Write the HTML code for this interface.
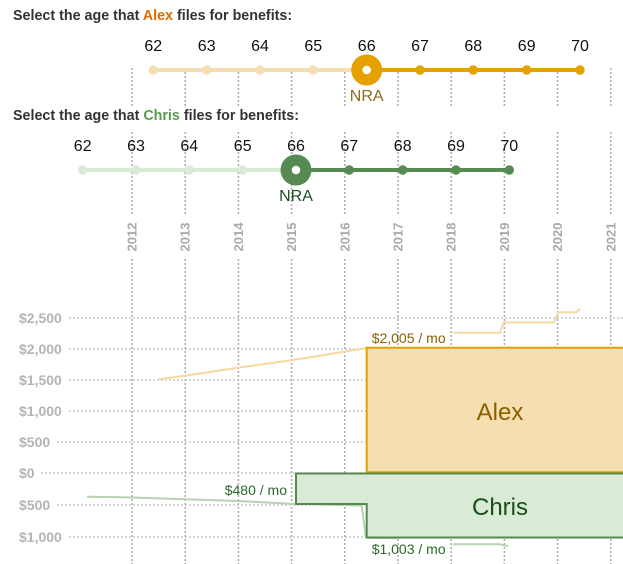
<!DOCTYPE html>
<html><head><meta charset="utf-8"><style>
html,body{margin:0;padding:0;background:#fff;}
svg{display:block;font-family:"Liberation Sans",Arial,sans-serif;}
</style></head><body>
<svg width="623" height="564" viewBox="0 0 623 564" xmlns="http://www.w3.org/2000/svg">
<rect width="623" height="564" fill="#fff"/>
<!-- vertical gridlines -->
<g stroke="#aaa" stroke-width="1.5" stroke-dasharray="2 2">
<line x1="132" y1="68" x2="132" y2="214"/><line x1="132" y1="259" x2="132" y2="564"/>
<line x1="185.2" y1="68" x2="185.2" y2="214"/><line x1="185.2" y1="259" x2="185.2" y2="564"/>
<line x1="238.4" y1="68" x2="238.4" y2="214"/><line x1="238.4" y1="259" x2="238.4" y2="564"/>
<line x1="291.6" y1="68" x2="291.6" y2="214"/><line x1="291.6" y1="259" x2="291.6" y2="564"/>
<line x1="344.8" y1="68" x2="344.8" y2="214"/><line x1="344.8" y1="259" x2="344.8" y2="564"/>
<line x1="398" y1="68" x2="398" y2="214"/><line x1="398" y1="259" x2="398" y2="564"/>
<line x1="451.2" y1="68" x2="451.2" y2="214"/><line x1="451.2" y1="259" x2="451.2" y2="564"/>
<line x1="504.4" y1="68" x2="504.4" y2="214"/><line x1="504.4" y1="259" x2="504.4" y2="564"/>
<line x1="557.6" y1="68" x2="557.6" y2="214"/><line x1="557.6" y1="259" x2="557.6" y2="564"/>
<line x1="610.8" y1="68" x2="610.8" y2="214"/><line x1="610.8" y1="259" x2="610.8" y2="564"/>
</g>
<rect x="0" y="107" width="623" height="25" fill="#fff"/>
<!-- year labels -->
<g font-size="13" font-weight="bold" fill="#aaa" text-anchor="middle">
<text transform="translate(136.5,237) rotate(-90)">2012</text>
<text transform="translate(189.7,237) rotate(-90)">2013</text>
<text transform="translate(242.9,237) rotate(-90)">2014</text>
<text transform="translate(296.1,237) rotate(-90)">2015</text>
<text transform="translate(349.3,237) rotate(-90)">2016</text>
<text transform="translate(402.5,237) rotate(-90)">2017</text>
<text transform="translate(455.7,237) rotate(-90)">2018</text>
<text transform="translate(508.9,237) rotate(-90)">2019</text>
<text transform="translate(562.1,237) rotate(-90)">2020</text>
<text transform="translate(615.3,237) rotate(-90)">2021</text>
</g>
<!-- horizontal gridlines -->
<g stroke="#c8c8c8" stroke-width="1.5" stroke-dasharray="2 2">
<line x1="69" y1="318" x2="623" y2="318"/>
<line x1="69" y1="349" x2="623" y2="349"/>
<line x1="69" y1="380" x2="623" y2="380"/>
<line x1="69" y1="411" x2="623" y2="411"/>
<line x1="57" y1="442" x2="623" y2="442"/>
<line x1="41" y1="473" x2="623" y2="473"/>
<line x1="57" y1="505" x2="623" y2="505"/>
<line x1="69" y1="537" x2="623" y2="537"/>
</g>
<g font-size="14" font-weight="bold" fill="#b4b4b4">
<text x="19" y="323">$2,500</text>
<text x="19" y="354">$2,000</text>
<text x="19" y="385">$1,500</text>
<text x="19" y="416">$1,000</text>
<text x="19" y="447">$500</text>
<text x="19" y="478">$0</text>
<text x="19" y="510">$500</text>
<text x="19" y="542">$1,000</text>
</g>
<!-- trend lines -->
<g fill="none" stroke-width="2" stroke-linejoin="round">
<polyline stroke="#f5d9a0" points="158.7,379.3 185,375.8 238,367.8 291,360.2 320,355.7 345,351.5 366.7,348"/>
<polyline stroke="#f5d9a0" points="453.3,332.7 500,332.7 503.5,322.5 554,322.5 558,312.3 576,312.3 580,309"/>
<polyline stroke="#b8d2b2" points="87,496.7 132,497.5 185,499.3 238,501 291,503.7 343,505 361.7,505.7 366,537.7 397,538.3"/>
<polyline stroke="#b8d2b2" points="453,544.3 500,544.3 508,546"/>
</g>
<!-- boxes -->
<rect x="366.7" y="347.7" width="260" height="124.5" fill="#f5deb0" stroke="#e6a000" stroke-width="2"/>
<path d="M296 473.5 L626 473.5 L626 537.5 L366.7 537.5 L366.7 504 L296 504 Z" fill="#d9ebd7" stroke="#578a50" stroke-width="2"/>
<text x="500" y="420" font-size="24" fill="#8c5e00" text-anchor="middle">Alex</text>
<text x="500" y="515" font-size="24" fill="#184d18" text-anchor="middle">Chris</text>
<text x="371.7" y="343" font-size="14" fill="#8c5e00">$2,005 / mo</text>
<text x="287" y="495" font-size="14" fill="#2a6a2a" text-anchor="end">$480 / mo</text>
<text x="371.7" y="554" font-size="14" fill="#2a6a2a">$1,003 / mo</text>
<!-- titles -->
<text x="13" y="20" font-size="14.3" font-weight="bold" fill="#333">Select the age that <tspan fill="#e06c00">Alex</tspan> files for benefits:</text>
<text x="13" y="120" font-size="14.3" font-weight="bold" fill="#333">Select the age that <tspan fill="#5a9a50">Chris</tspan> files for benefits:</text>
<!-- Alex slider -->
<line x1="153.3" y1="70" x2="366.7" y2="70" stroke="#f5deb3" stroke-width="4"/>
<line x1="366.7" y1="70" x2="580" y2="70" stroke="#e6a000" stroke-width="4"/>
<g fill="#f5deb3">
<circle cx="153.3" cy="70" r="4.7"/><circle cx="206.7" cy="70" r="4.7"/><circle cx="260" cy="70" r="4.7"/><circle cx="313.3" cy="70" r="4.7"/>
</g>
<g fill="#e6a000">
<circle cx="420" cy="70" r="4.7"/><circle cx="473.3" cy="70" r="4.7"/><circle cx="526.7" cy="70" r="4.7"/><circle cx="580" cy="70" r="4.7"/>
</g>
<circle cx="366.7" cy="70" r="15.5" fill="#e6a000"/>
<circle cx="366.7" cy="70" r="4.3" fill="#fff"/>
<g font-size="16" fill="#111" text-anchor="middle">
<text x="153.3" y="51">62</text><text x="206.7" y="51">63</text><text x="260" y="51">64</text><text x="313.3" y="51">65</text><text x="366.7" y="51">66</text><text x="420" y="51">67</text><text x="473.3" y="51">68</text><text x="526.7" y="51">69</text><text x="580" y="51">70</text>
</g>
<text x="366.7" y="101" font-size="16" fill="#8c6d1f" text-anchor="middle">NRA</text>
<!-- Chris slider -->
<line x1="82.7" y1="170" x2="296" y2="170" stroke="#d8ebd5" stroke-width="4"/>
<line x1="296" y1="170" x2="509.3" y2="170" stroke="#578a50" stroke-width="4"/>
<g fill="#d8ebd5">
<circle cx="82.7" cy="170" r="4.7"/><circle cx="136" cy="170" r="4.7"/><circle cx="189.3" cy="170" r="4.7"/><circle cx="242.7" cy="170" r="4.7"/>
</g>
<g fill="#578a50">
<circle cx="349.3" cy="170" r="4.7"/><circle cx="402.7" cy="170" r="4.7"/><circle cx="456" cy="170" r="4.7"/><circle cx="509.3" cy="170" r="4.7"/>
</g>
<circle cx="296" cy="170" r="15.5" fill="#578a50"/>
<circle cx="296" cy="170" r="4.3" fill="#fff"/>
<g font-size="16" fill="#111" text-anchor="middle">
<text x="82.7" y="151">62</text><text x="136" y="151">63</text><text x="189.3" y="151">64</text><text x="242.7" y="151">65</text><text x="296" y="151">66</text><text x="349.3" y="151">67</text><text x="402.7" y="151">68</text><text x="456" y="151">69</text><text x="509.3" y="151">70</text>
</g>
<text x="296" y="201" font-size="16" fill="#1e4d1e" text-anchor="middle">NRA</text>
</svg>
</body></html>
